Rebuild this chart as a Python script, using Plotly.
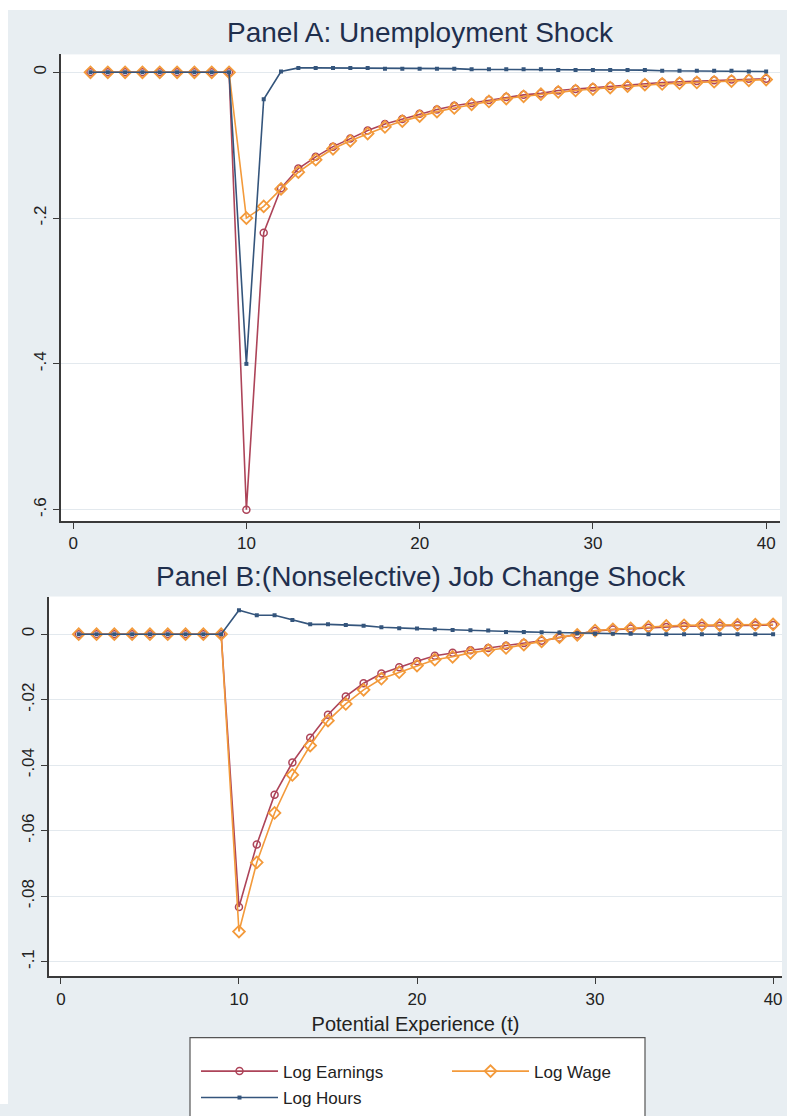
import plotly.graph_objects as go

t = list(range(1, 41))

# Panel A: Unemployment shock
a_earn = [0]*9 + [-0.600, -0.220, -0.159, -0.132, -0.116, -0.102, -0.091, -0.080, -0.071, -0.064,
                  -0.057, -0.051, -0.046, -0.042, -0.038, -0.034, -0.031, -0.029, -0.025, -0.023,
                  -0.021, -0.019, -0.018, -0.015, -0.014, -0.013, -0.012, -0.011, -0.010, -0.009, -0.009]
a_wage = [0]*9 + [-0.200, -0.184, -0.160, -0.137, -0.120, -0.105, -0.094, -0.084, -0.075, -0.067,
                  -0.060, -0.054, -0.049, -0.044, -0.040, -0.036, -0.033, -0.030, -0.027, -0.025,
                  -0.023, -0.021, -0.019, -0.017, -0.016, -0.015, -0.014, -0.013, -0.012, -0.011, -0.010]
a_hours = [0]*9 + [-0.400, -0.037, 0.001, 0.006, 0.006, 0.006, 0.006, 0.006, 0.005, 0.005,
                   0.005, 0.005, 0.005, 0.004, 0.004, 0.004, 0.004, 0.004, 0.003, 0.003,
                   0.003, 0.003, 0.003, 0.003, 0.002, 0.002, 0.002, 0.002, 0.002, 0.001, 0.001]

# Panel B: (Nonselective) job change shock
b_earn = [0]*9 + [-0.0833, -0.0642, -0.0490, -0.0392, -0.0316, -0.0246, -0.0190, -0.0150, -0.0120, -0.0101,
                  -0.0083, -0.0066, -0.0057, -0.0049, -0.0042, -0.0035, -0.0027, -0.0020, -0.0011, -0.0001,
                  0.0010, 0.0014, 0.0017, 0.0020, 0.0022, 0.0024, 0.0025, 0.0026, 0.0027, 0.0027, 0.0028]
b_wage = [0]*9 + [-0.0908, -0.0697, -0.0546, -0.0430, -0.0340, -0.0264, -0.0213, -0.0170, -0.0136, -0.0116,
                  -0.0096, -0.0078, -0.0069, -0.0057, -0.0049, -0.0042, -0.0032, -0.0022, -0.0009, -0.0002,
                  0.0011, 0.0015, 0.0018, 0.0022, 0.0025, 0.0027, 0.0028, 0.0028, 0.0029, 0.0029, 0.0030]
b_hours = [0]*9 + [0.0073, 0.0058, 0.0058, 0.0043, 0.0030, 0.0030, 0.0028, 0.0026, 0.0021, 0.0018,
                   0.0017, 0.0015, 0.0013, 0.0012, 0.0011, 0.0007, 0.0007, 0.0006, 0.0005, 0.0003,
                   0.0001, 0.0001, 0.0001, 0.0000, 0.0000, 0.0000, 0.0000, 0.0000, 0.0000, 0.0000, 0.0000]

series_names = ["Log Earnings", "Log Wage", "Log Hours"]
x_ticks = [0, 10, 20, 30, 40]
a_yticks = [0, -0.2, -0.4, -0.6]
a_yticktext = ["0", "-.2", "-.4", "-.6"]
b_yticks = [0, -0.02, -0.04, -0.06, -0.08, -0.1]
b_yticktext = ["0", "-.02", "-.04", "-.06", "-.08", "-.1"]

C_EARN = "#ad4459"
C_WAGE = "#f39a3b"
C_HOURS = "#34557c"
BG = "#e8eef2"
GRID = "#e3e9ee"
AXIS = "#3a3a3a"
FONT = "Liberation Sans, Arial, sans-serif"

W, H = 787, 1116

def px(v):
    return v / W

def py(v):
    return 1 - v / H

fig = go.Figure()

styles = [
    dict(color=C_EARN, marker=dict(symbol="circle-open", size=7, color=C_EARN, line=dict(width=1.5, color=C_EARN))),
    dict(color=C_WAGE, marker=dict(symbol="diamond-open", size=9, color=C_WAGE, line=dict(width=1.8, color=C_WAGE))),
    dict(color=C_HOURS, marker=dict(symbol="square", size=4, color=C_HOURS, line=dict(width=0))),
]
legend_of = ["legend", "legend", "legend2"]

for panel, (data, xa, ya) in enumerate([((a_earn, a_wage, a_hours), "x", "y"),
                                         ((b_earn, b_wage, b_hours), "x2", "y2")]):
    for name, vals, st, lg in zip(series_names, data, styles, legend_of):
        fig.add_trace(go.Scatter(
            x=t, y=vals, name=name, mode="lines+markers",
            line=dict(color=st["color"], width=1.6),
            marker=st["marker"],
            xaxis=xa, yaxis=ya,
            showlegend=(panel == 1), legend=lg,
        ))

axis_common = dict(
    showline=True, linecolor=AXIS, linewidth=1.5, mirror=False,
    ticks="outside", ticklen=6, tickcolor=AXIS, tickwidth=1.2,
    tickfont=dict(family=FONT, size=17, color="#222222"),
    zeroline=False,
)

legend_common = dict(
    orientation="h", xanchor="left", yanchor="top",
    bgcolor="rgba(0,0,0,0)", borderwidth=0,
    font=dict(family=FONT, size=17, color="#222222"),
    itemwidth=77, entrywidth=159, entrywidthmode="pixels",
    traceorder="normal",
)

fig.update_layout(
    width=W, height=H,
    margin=dict(l=0, r=0, t=0, b=0),
    paper_bgcolor=BG, plot_bgcolor="white",
    font=dict(family=FONT, color="#222222"),
    xaxis=dict(domain=[px(61), px(780)], range=[-0.7, 40.8], tickvals=x_ticks,
               showgrid=False, anchor="y", **axis_common),
    yaxis=dict(domain=[py(527), py(55)], range=[-0.616, 0.0245], tickvals=a_yticks,
               ticktext=a_yticktext, tickangle=-90, showgrid=True, gridcolor=GRID, gridwidth=1,
               anchor="x", **axis_common),
    xaxis2=dict(domain=[px(49), px(782)], range=[-0.67, 40.5], tickvals=x_ticks,
                showgrid=False, anchor="y2",
                title=dict(text="Potential Experience (t)", font=dict(family=FONT, size=20, color="#222222"), standoff=9),
                **axis_common),
    yaxis2=dict(domain=[py(987), py(603)], range=[-0.1045, 0.0115], tickvals=b_yticks,
                ticktext=b_yticktext, tickangle=-90, showgrid=True, gridcolor=GRID, gridwidth=1,
                anchor="x2", **axis_common),
    legend=dict(x=px(196), y=py(1065), **legend_common),
    legend2=dict(x=px(196), y=py(1092), **legend_common),
    showlegend=True,
)

# white margin at the top and left (outside the graph region)
fig.add_shape(type="rect", xref="paper", yref="paper", x0=0, x1=1, y0=py(10), y1=1,
              fillcolor="white", line=dict(width=0), layer="below")
fig.add_shape(type="rect", xref="paper", yref="paper", x0=0, x1=px(8), y0=0, y1=1,
              fillcolor="white", line=dict(width=0), layer="below")
# legend box
fig.add_shape(type="rect", xref="paper", yref="paper", x0=px(190), x1=px(645), y0=py(1130), y1=py(1049),
              fillcolor="white", line=dict(width=1.2, color="#555555"), layer="below")

fig.add_annotation(text="Panel A: Unemployment Shock", xref="paper", yref="paper",
                   x=px(421), y=py(33), showarrow=False, xanchor="center", yanchor="middle",
                   font=dict(family=FONT, size=28, color="#1f2f4d"))
fig.add_annotation(text="Panel B:(Nonselective) Job Change Shock", xref="paper", yref="paper",
                   x=px(421), y=py(583), showarrow=False, xanchor="center", yanchor="middle",
                   font=dict(family=FONT, size=28, color="#1f2f4d"))

fig.write_html(
    "out.html",
    config={"displayModeBar": False},
    post_script=(
        "document.body.style.margin='0px';"
        "document.body.style.background='" + BG + "';"
        "document.documentElement.style.background='" + BG + "';"
        "document.documentElement.style.overflow='hidden';"
    ),
)
